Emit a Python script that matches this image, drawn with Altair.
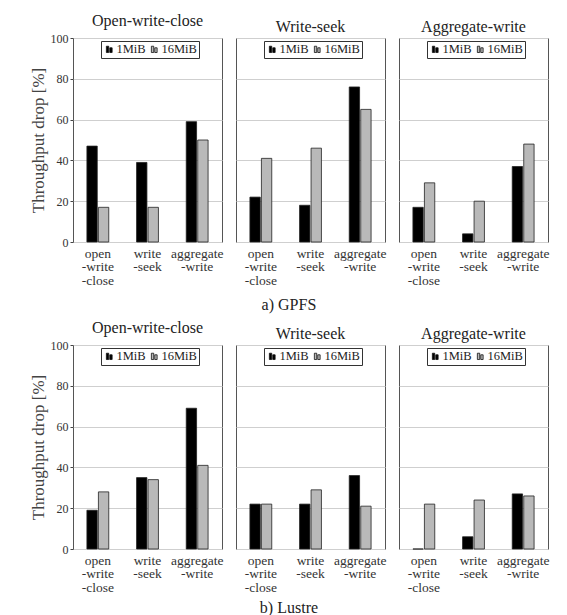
import altair as alt
import pandas as pd

SERIF = "Liberation Serif"

systems = ["GPFS", "Lustre"]
captions = ["a)  GPFS", "b)  Lustre"]
panels = ["Open-write-close", "Write-seek", "Aggregate-write"]
categories = ["open\n-write\n-close", "write\n-seek", "aggregate\n-write"]
sizes = ["1MiB", "16MiB"]

# GPFS values (per panel, per category)
gpfs_owc_1mib = [47, 39, 59]
gpfs_owc_16mib = [17, 17, 50]
gpfs_ws_1mib = [22, 18, 76]
gpfs_ws_16mib = [41, 46, 65]
gpfs_aw_1mib = [17, 4, 37]
gpfs_aw_16mib = [29, 20, 48]

# Lustre values
lustre_owc_1mib = [19, 35, 69]
lustre_owc_16mib = [28, 34, 41]
lustre_ws_1mib = [22, 22, 36]
lustre_ws_16mib = [22, 29, 21]
lustre_aw_1mib = [0, 6, 27]
lustre_aw_16mib = [22, 24, 26]

series = {
    ("GPFS", "Open-write-close"): (gpfs_owc_1mib, gpfs_owc_16mib),
    ("GPFS", "Write-seek"): (gpfs_ws_1mib, gpfs_ws_16mib),
    ("GPFS", "Aggregate-write"): (gpfs_aw_1mib, gpfs_aw_16mib),
    ("Lustre", "Open-write-close"): (lustre_owc_1mib, lustre_owc_16mib),
    ("Lustre", "Write-seek"): (lustre_ws_1mib, lustre_ws_16mib),
    ("Lustre", "Aggregate-write"): (lustre_aw_1mib, lustre_aw_16mib),
}

SYMBOL = "M-0.55,-0.6H-0.1V0.6H-0.55Z M0.1,-0.3H0.55V0.6H0.1Z"


def panel_chart(system, panel, first):
    a, b = series[(system, panel)]
    rows = []
    for cat, v1, v2 in zip(categories, a, b):
        rows.append({"category": cat, "size": sizes[0], "value": v1})
        rows.append({"category": cat, "size": sizes[1], "value": v2})
    df = pd.DataFrame(rows)
    if first:
        yaxis = alt.Axis(values=[0, 20, 40, 60, 80, 100], title="Throughput drop [%]",
                         titleFont=SERIF, titleFontSize=17, titleFontWeight="normal",
                         titleColor="#444", titlePadding=3,
                         labelFont=SERIF, labelFontSize=12, labelColor="#333",
                         ticks=True, tickSize=3, tickColor="#444",
                         labelPadding=2, domain=False,
                         grid=True, gridColor="#cfcfcf")
    else:
        yaxis = alt.Axis(values=[0, 20, 40, 60, 80, 100], title=None, labels=False,
                         ticks=False, domain=False, grid=True, gridColor="#cfcfcf")
    return alt.Chart(df, title=alt.TitleParams(panel, font=SERIF, fontSize=16,
                                               fontWeight="normal", color="#222",
                                               offset=3)).mark_bar(
        stroke="#222", strokeWidth=0.8
    ).encode(
        x=alt.X("category:N", sort=categories,
                scale=alt.Scale(paddingInner=0.56, paddingOuter=0.28),
                axis=alt.Axis(title=None, labelAngle=0, ticks=False, domain=False,
                              labelExpr="split(datum.label, '\\n')",
                              labelFont=SERIF, labelFontSize=13.5, labelColor="#333",
                              labelLineHeight=13.5, labelOverlap=False,
                              labelBaseline="top", labelPadding=4)),
        xOffset=alt.XOffset("size:N", sort=sizes, scale=alt.Scale(paddingInner=0.1)),
        y=alt.Y("value:Q", scale=alt.Scale(domain=[0, 100], nice=False), axis=yaxis),
        color=alt.Color("size:N", sort=sizes,
                        scale=alt.Scale(domain=sizes, range=["#000000", "#b9b9b9"]),
                        legend=alt.Legend(orient="none", legendX=28, legendY=3,
                                          direction="horizontal", title=None,
                                          symbolType=SYMBOL, symbolSize=110,
                                          symbolStrokeColor="#111", symbolStrokeWidth=0.8,
                                          labelFont=SERIF, labelFontSize=12.5,
                                          labelColor="#222", labelOffset=1,
                                          columnPadding=2, padding=2,
                                          strokeColor="#333", fillColor="white",
                                          cornerRadius=0)),
    ).properties(width=149, height=204)


caption_offsets = [10, 6]
rows = []
for system, caption, off in zip(systems, captions, caption_offsets):
    charts = [panel_chart(system, p, i == 0) for i, p in enumerate(panels)]
    row = alt.hconcat(*charts, spacing=11, title=alt.TitleParams(
        caption, orient="bottom", anchor="middle", frame="bounds",
        font=SERIF, fontSize=16, fontWeight="normal", color="#222", offset=off
    )).resolve_scale(color="independent", x="independent", y="independent")
    rows.append(row)

chart = alt.vconcat(*rows, spacing=6).resolve_scale(
    color="independent"
).configure(
    font=SERIF
).configure_view(
    stroke="#555", strokeWidth=1
).properties(
    padding={"left": 28, "top": 12, "right": 5, "bottom": 0},
    background="white"
)

chart.save("out.html", embed_options={"renderer": "svg", "actions": False})
